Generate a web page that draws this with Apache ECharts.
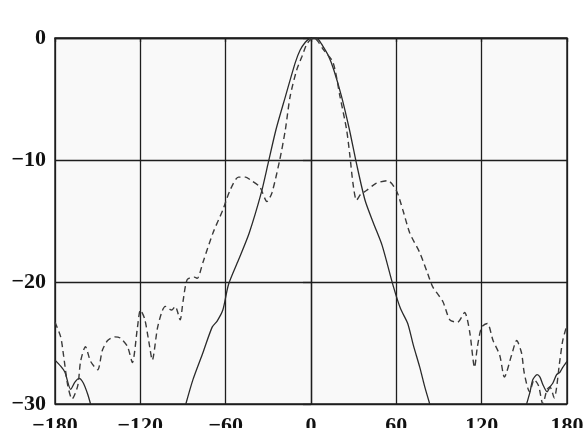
<!DOCTYPE html>
<html>
<head>
<meta charset="utf-8">
<script src="https://cdn.jsdelivr.net/npm/echarts@6/dist/echarts.min.js"></script>
<style>
html,body{margin:0;padding:0;background:#ffffff;}
#chart{width:583px;height:428px;}
</style>
</head>
<body>
<div id="chart"></div>
<script>
// Angle (deg) and level (dB) for the solid pattern; null breaks where the curve drops below -30
const solidAngles = [-180,-176,-173,-169,-166,-163,-160,-157,-155,null,
  -88,-83,-76,-69.5,-66,-62,-58,-51,-43.5,-35,-30,-24.6,-18,-11,-7.7,-4,-1,2,5,8,12,16,21.5,27,32,38,44,50,58,63,68,72,76.5,80,83.5,null,
  151.6,154,156,159,161,163,166,168,170,172.7,175,177,180];
const solidLevels = [-26.4,-26.9,-27.4,-28.8,-28.2,-27.9,-28.3,-29.2,-30,null,
  -30,-28,-25.8,-23.7,-23.2,-22.3,-20.2,-18.2,-16,-12.7,-10.2,-7.5,-4.8,-2.0,-1.0,-0.35,-0.05,0,-0.1,-0.6,-1.4,-2.6,-4.8,-7.5,-10.3,-13.3,-15.2,-17,-20.4,-22.2,-23.4,-25.2,-27,-28.6,-30,null,
  -30,-29,-28,-27.6,-27.8,-28.4,-29,-28.6,-28.3,-27.6,-27.4,-27,-26.5];

// Angle (deg) and level (dB) for the dashed pattern
const dashedAngles = [-180,-176,-174,-171,-168,-164,-162,-158.6,-155,-150,-146.7,-143,-138,-134,-129,-125.6,-122,-120,-117,-114,-111.6,-108,-105,-102.5,-98,-95.5,-92,-90,-87,-82,-80,-76,-69,-62,-57,-51,-46,-43,-36,-31,-27.5,-22,-18,-14.7,-10,-6.3,-3,0,2,5,9,15.5,20.4,25,27.4,29.5,32,35,39,46,54,60,64.6,69.5,76.5,82,85.6,92.7,97.6,103,108,111.6,115,117,120,124,128,132.7,136,141,144.6,148,150,153.7,157,160,163,166,168,171,175,177,180];
const dashedLevels = [-23.3,-24.5,-26,-28.5,-29.6,-28.5,-26.5,-25.3,-26.5,-27.2,-25.6,-24.8,-24.5,-24.6,-25.3,-26.6,-23.7,-22.3,-23,-24.9,-26.4,-23.8,-22.5,-22,-22.3,-22,-23.1,-21.6,-19.8,-19.6,-19.7,-18.4,-16,-14.1,-12.5,-11.4,-11.4,-11.6,-12.2,-13.4,-12.7,-10,-7.5,-4.8,-2.6,-1.5,-0.5,-0.1,0,-0.3,-1,-2,-4.8,-7.5,-9.7,-11.9,-13.3,-12.8,-12.5,-11.9,-11.7,-12.5,-14.1,-16,-17.6,-19.3,-20.4,-21.6,-23.1,-23.3,-22.5,-24.1,-27,-25.3,-23.7,-23.4,-24.8,-26,-27.8,-26,-24.8,-25.8,-27.5,-29,-28,-28.5,-30,-28.8,-28.6,-29.5,-26.4,-24.8,-23.5];

const xTicks = [-180,-120,-60,0,60,120,180];
const yTicks = [-30,-20,-10,0];

function pairs(xs, ys){ return xs.map((x,i)=> (x===null||ys[i]===null) ? [null,null] : [x, ys[i]]); }
function fmt(v){ return String(v).replace('-', '\u2212'); }

const chart = echarts.init(document.getElementById('chart'), null, {renderer:'canvas'});
const ink = '#1e1e1e';
const labelFont = {fontFamily:'Liberation Serif', fontWeight:'bold', fontSize:22, color:'#111'};
chart.setOption({
  animation:false,
  backgroundColor:'#ffffff',
  grid:{left:55, right:16, top:38, bottom:24, containLabel:false, outerBoundsMode:'none',
        show:true, borderColor:ink, borderWidth:1.4, backgroundColor:'#f9f9f9'},
  xAxis:{type:'value', min:-180, max:180, interval:60,
    axisLine:{show:true, lineStyle:{color:ink, width:1.3}},
    axisTick:{show:true, length:4, lineStyle:{color:ink, width:1.3}},
    axisLabel:Object.assign({margin:11, formatter:fmt}, labelFont),
    splitLine:{show:true, lineStyle:{color:ink, width:1.3}}},
  yAxis:{type:'value', min:-30, max:0, interval:10,
    axisLine:{show:true, lineStyle:{color:ink, width:1.3}},
    axisTick:{show:true, length:8, lineStyle:{color:ink, width:1.3}},
    axisLabel:Object.assign({margin:9, formatter:fmt}, labelFont),
    splitLine:{show:true, lineStyle:{color:ink, width:1.3}}},
  series:[
    {type:'line', data:pairs(solidAngles, solidLevels), showSymbol:false, smooth:0.25, connectNulls:false,
     lineStyle:{color:'#2a2a2a', width:1.3}},
    {type:'line', data:pairs(dashedAngles, dashedLevels), showSymbol:false, smooth:0.25,
     lineStyle:{color:'#3a3a3a', width:1.4, type:[6,4]}}
  ]
});
</script>
</body>
</html>
